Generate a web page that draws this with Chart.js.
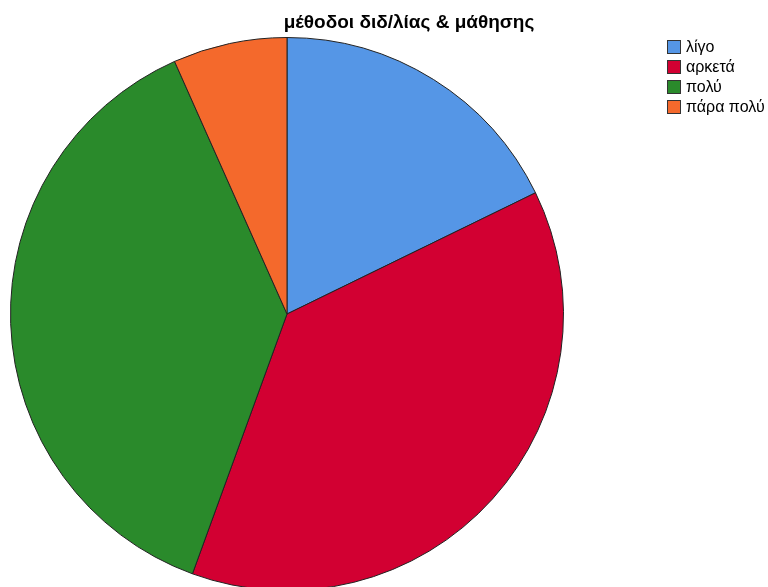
<!DOCTYPE html>
<html>
<head>
<meta charset="utf-8">
<script src="https://cdn.jsdelivr.net/npm/chart.js@4"></script>
<style>
  html, body { margin: 0; padding: 0; background: #fff; overflow: hidden; }
  #wrap { width: 768px; height: 600px; }
</style>
</head>
<body>
<div id="wrap"><canvas id="myChart" width="768" height="600"></canvas></div>
<script>
const chartTitle = 'μέθοδοι διδ/λίας & μάθησης';
const categories = ['λίγο', 'αρκετά', 'πολύ', 'πάρα πολύ'];
const counts = [8, 17, 17, 3];
const colors = ['#5596E6', '#D20032', '#2A8A2B', '#F4692C'];

// title + legend drawn by hand so the pie keeps its own position
const extras = {
  id: 'extras',
  afterDraw(chart) {
    const c = chart.ctx;
    c.save();
    c.fillStyle = '#000';
    c.font = 'bold 19px "Liberation Sans", Arial, sans-serif';
    c.textAlign = 'center';
    c.textBaseline = 'middle';
    c.fillText(chartTitle, 409, 23);

    c.font = '16px "Liberation Sans", Arial, sans-serif';
    c.textAlign = 'left';
    chart.data.labels.forEach((lab, i) => {
      const y = 47 + i * 20;
      c.fillStyle = colors[i];
      c.fillRect(667, y - 7, 14, 14);
      c.strokeStyle = '#333';
      c.lineWidth = 1;
      c.strokeRect(667.5, y - 6.5, 13, 13);
      c.fillStyle = '#000';
      c.fillText(lab, 686, y + 1);
    });
    c.restore();
  }
};

const ctx = document.getElementById('myChart').getContext('2d');
const pie = new Chart(ctx, {
  type: 'pie',
  data: {
    labels: categories,
    datasets: [{
      data: counts,
      backgroundColor: colors,
      borderColor: '#222',
      borderWidth: 1
    }]
  },
  options: {
    responsive: false,
    animation: false,
    layout: { padding: { left: 10, right: 204, top: 37, bottom: 9 } },
    plugins: {
      legend: { display: false },
      title: { display: false },
      tooltip: { enabled: false }
    }
  },
  plugins: [extras]
});
</script>
</body>
</html>
